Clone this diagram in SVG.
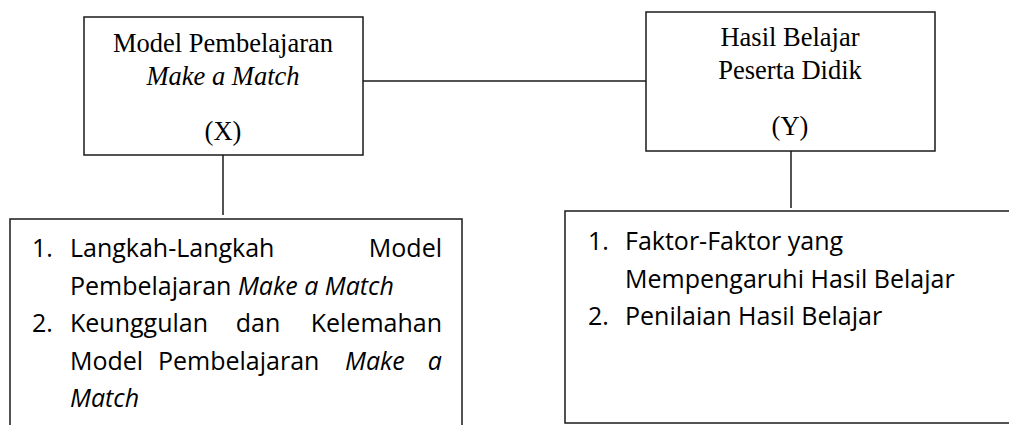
<svg xmlns="http://www.w3.org/2000/svg" width="1009" height="425" viewBox="0 0 1009 425">
<style>
.box{fill:#fff;stroke:#1a1a1a;stroke-width:1.5}
.conn{stroke:#1a1a1a;stroke-width:1.5;fill:none}
.serif{font-family:"Liberation Serif","Times New Roman",serif;font-size:26.5px;fill:#000;text-anchor:middle}
.sans{font-family:"Open Sans","Noto Sans",sans-serif;font-size:25px;fill:#000}
.it{font-style:italic}
</style>
<rect width="1009" height="425" fill="#fff"/>
<g id="connectors">
<line class="conn" x1="363" y1="81" x2="646" y2="81"/>
<line class="conn" x1="223" y1="155" x2="223" y2="215"/>
<line class="conn" x1="791" y1="151" x2="791" y2="208"/>
</g>
<g id="nodeX">
<rect class="box" x="84" y="17" width="279" height="138"/>
<text class="serif" x="223" y="52">Model Pembelajaran</text>
<text class="serif it" x="223" y="85">Make a Match</text>
<text class="serif" x="223" y="140">(X)</text>
</g>
<g id="nodeY">
<rect class="box" x="646" y="12" width="289" height="139"/>
<text class="serif" x="790" y="46">Hasil Belajar</text>
<text class="serif" x="790" y="79">Peserta Didik</text>
<text class="serif" x="790" y="135">(Y)</text>
</g>
<g id="detailX">
<rect class="box" x="10" y="219" width="452" height="220"/>
<text class="sans" x="32" y="257">1.</text>
<text class="sans" x="70" y="257">Langkah-Langkah</text>
<text class="sans" x="442" y="257" text-anchor="end">Model</text>
<text class="sans" x="70" y="295">Pembelajaran <tspan class="it">Make a Match</tspan></text>
<text class="sans" x="32" y="332">2.</text>
<text class="sans" x="70" y="332">Keunggulan</text>
<text class="sans" x="258" y="332" text-anchor="middle">dan</text>
<text class="sans" x="442" y="332" text-anchor="end">Kelemahan</text>
<text class="sans" x="70" y="370">Model</text>
<text class="sans" x="158" y="370">Pembelajaran</text>
<text class="sans it" x="345" y="370">Make</text>
<text class="sans it" x="442" y="370" text-anchor="end">a</text>
<text class="sans it" x="70" y="407">Match</text>
</g>
<g id="detailY">
<rect class="box" x="565" y="211" width="460" height="212"/>
<text class="sans" x="588" y="250">1.</text>
<text class="sans" x="625" y="250">Faktor-Faktor yang</text>
<text class="sans" x="625" y="288">Mempengaruhi Hasil Belajar</text>
<text class="sans" x="588" y="325">2.</text>
<text class="sans" x="625" y="325">Penilaian Hasil Belajar</text>
</g>
</svg>
